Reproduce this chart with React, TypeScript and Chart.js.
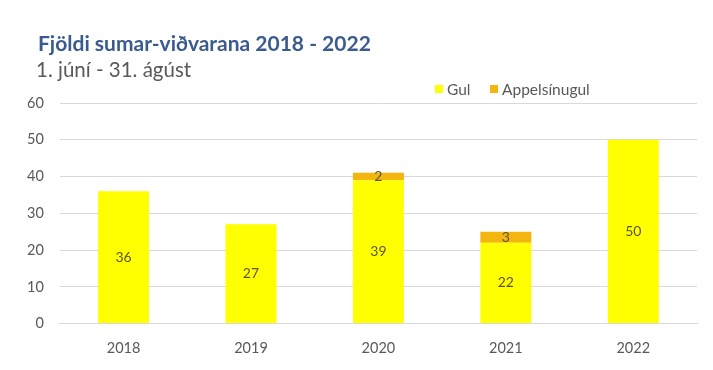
import React, { useEffect, useRef } from "react";
import { Chart, registerables } from "chart.js";

Chart.register(...registerables);

const years = ["2018", "2019", "2020", "2021", "2022"];
const gul = [36, 27, 39, 22, 50];
const appelsinugul = [0, 0, 2, 3, 0];
const yTicks = [0, 10, 20, 30, 40, 50, 60];

const titleText = "Fjöldi sumar-viðvarana 2018 - 2022";
const subtitleText = "1. júní - 31. ágúst";
const seriesNames = ["Gul", "Appelsínugul"];

const YELLOW = "#FFFF00";
const ORANGE = "#F4B50F";
const FONT = "Lato, 'Open Sans', sans-serif";

export default function App() {
  const ref = useRef<HTMLCanvasElement | null>(null);
  useEffect(() => {
    if (!ref.current) return;
    const headerPlugin = {
      id: "header",
      afterDraw(chart: any) {
        const ctx = chart.ctx;
        ctx.save();
        ctx.textBaseline = "middle";
        ctx.textAlign = "left";
        ctx.fillStyle = "#3B5B8E";
        ctx.font = `bold 21px ${FONT}`;
        ctx.fillText(titleText, 38, 44);
        ctx.fillStyle = "#595959";
        ctx.font = `20.5px ${FONT}`;
        ctx.fillText(subtitleText, 36, 70);
        // legend
        const colors = [YELLOW, ORANGE];
        const xs = [435, 490];
        ctx.font = `15.5px ${FONT}`;
        for (let i = 0; i < 2; i++) {
          ctx.fillStyle = colors[i];
          ctx.fillRect(xs[i], 85, 8, 8);
          ctx.fillStyle = "#595959";
          ctx.fillText(seriesNames[i], xs[i] + 12, 89.5);
        }
        // data labels
        ctx.textAlign = "center";
        ctx.fillStyle = "#5a5428";
        ctx.font = `14px ${FONT}`;
        chart.data.datasets.forEach((ds: any, di: number) => {
          const meta = chart.getDatasetMeta(di);
          meta.data.forEach((bar: any, i: number) => {
            const v = ds.data[i];
            if (!v) return;
            const cy = (bar.y + bar.base) / 2;
            ctx.fillText(String(v), bar.x, cy);
          });
        });
        ctx.restore();
      },
    };
    const chart = new Chart(ref.current, {
      type: "bar",
      data: {
        labels: years,
        datasets: [
          { label: seriesNames[0], data: gul, backgroundColor: YELLOW, borderWidth: 0, barPercentage: 0.8, categoryPercentage: 0.5 },
          { label: seriesNames[1], data: appelsinugul, backgroundColor: ORANGE, borderWidth: 0, barPercentage: 0.8, categoryPercentage: 0.5 },
        ],
      },
      options: {
        responsive: false,
        animation: false,
        layout: { padding: { top: 103, left: 11, right: 16, bottom: 5 } },
        plugins: { legend: { display: false }, title: { display: false }, tooltip: { enabled: false } },
        scales: {
          x: {
            stacked: true,
            grid: { display: false },
            border: { display: true, color: "#d9d9d9" },
            ticks: { color: "#595959", font: { size: 14.5, family: FONT }, padding: 8 },
          },
          y: {
            stacked: true,
            min: 0,
            max: 60,
            afterBuildTicks: (s: any) => { s.ticks = yTicks.map((v) => ({ value: v })); },
            grid: { color: "#d9d9d9", drawTicks: false },
            border: { display: false },
            ticks: { color: "#595959", font: { size: 14.5, family: FONT }, padding: 16 },
          },
        },
      },
      plugins: [headerPlugin],
    });
    return () => chart.destroy();
  }, []);
  return (
    <div style={{ position: "absolute", left: 0, top: 0, width: 713, height: 370, background: "#fff" }}>
      <canvas ref={ref} width={713} height={370} style={{ width: 713, height: 370 }} />
    </div>
  );
}
